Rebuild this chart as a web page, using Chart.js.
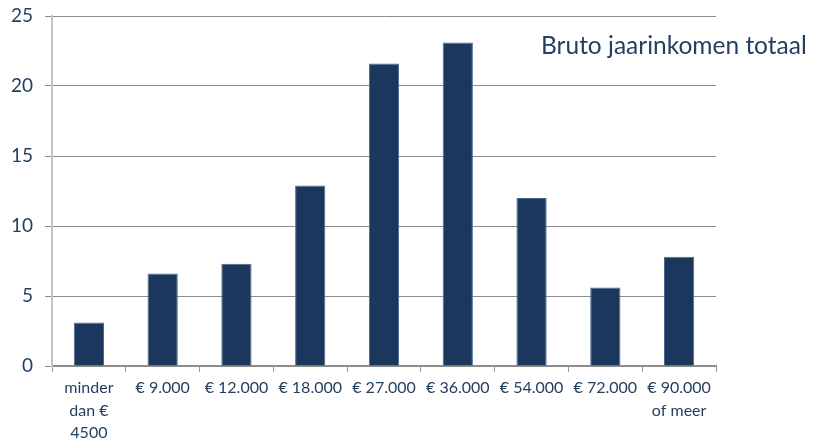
<!DOCTYPE html>
<html>
<head>
<meta charset="utf-8">
<script src="https://cdn.jsdelivr.net/npm/chart.js@4.4.1/dist/chart.umd.min.js"></script>
<style>
  html, body { margin: 0; padding: 0; background: #fff; }
  #wrap { width: 816px; height: 444px; }
</style>
</head>
<body>
<div id="wrap"><canvas id="chart" width="816" height="444"></canvas></div>
<script>
// --- data ---
const categories = [
  ['minder', 'dan €', '4500'],
  '€ 9.000', '€ 12.000', '€ 18.000', '€ 27.000',
  '€ 36.000', '€ 54.000', '€ 72.000',
  ['€ 90.000', 'of meer']
];
const incomeValues = [3.1, 6.6, 7.3, 12.9, 21.6, 23.1, 12.0, 5.6, 7.8];
const seriesName = 'Bruto jaarinkomen totaal';
const yTicks = [0, 5, 10, 15, 20, 25];

const textColor = '#243f60';
const fontFamily = "Lato, 'Open Sans', sans-serif";

// legend text sits inside the plot, no colour box
const legendText = {
  id: 'legendText',
  afterDraw(chart) {
    const ctx = chart.ctx;
    ctx.save();
    ctx.font = '24.5px ' + fontFamily;
    ctx.fillStyle = textColor;
    ctx.textBaseline = 'middle';
    ctx.textAlign = 'left';
    ctx.fillText(chart.data.datasets[0].label, 541, 46);
    ctx.restore();
  }
};

new Chart(document.getElementById('chart'), {
  type: 'bar',
  data: {
    labels: categories,
    datasets: [{
      label: seriesName,
      data: incomeValues,
      backgroundColor: '#1b375e',
      borderColor: '#4d6a92',
      borderWidth: 1,
      categoryPercentage: 1,
      barPercentage: 0.41
    }]
  },
  options: {
    responsive: false,
    animation: false,
    layout: { padding: { top: 16, right: 100, left: 0, bottom: 0 } },
    plugins: {
      legend: { display: false },
      tooltip: { enabled: false }
    },
    scales: {
      x: {
        offset: true,
        grid: {
          offset: true,
          drawOnChartArea: false,
          drawTicks: true,
          tickLength: 6,
          color: '#9a9a9a'
        },
        border: { color: '#8c8c8c', width: 2 },
        ticks: {
          color: textColor,
          font: { family: fontFamily, size: 16, lineHeight: 1.4 },
          maxRotation: 0,
          autoSkip: false,
          padding: 5
        },
        afterFit(scale) { scale.height = 78; }
      },
      y: {
        min: 0,
        max: 25,
        afterBuildTicks(scale) { scale.ticks = yTicks.map(v => ({ value: v })); },
        grid: {
          color: '#8c8c8c',
          tickLength: 7,
          lineWidth: 1
        },
        border: { color: '#c4c4c4', width: 2 },
        ticks: {
          color: textColor,
          font: { family: fontFamily, size: 19 },
          padding: 12
        },
        afterFit(scale) {
          scale.width = 52;
          scale.paddingTop = 0;
          scale.paddingBottom = 0;
        }
      }
    }
  },
  plugins: [legendText]
});
</script>
</body>
</html>
